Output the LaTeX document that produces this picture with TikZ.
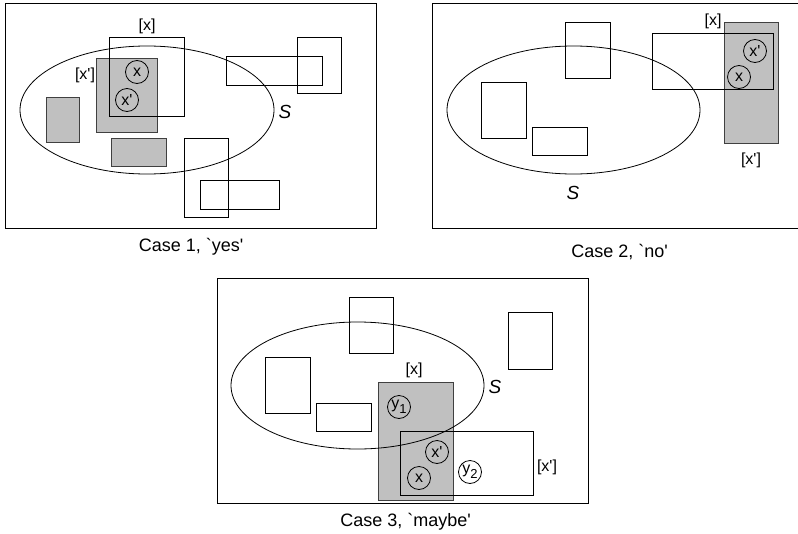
\documentclass[tikz,border=0pt]{standalone}
\usepackage{fontspec}
\setmainfont{Liberation Sans}[Ligatures=TeXOff]
\definecolor{boxgray}{RGB}{192,192,192}
\tikzset{
  frame/.style={draw=black, line width=0.9pt},
  plainbox/.style={draw=black, line width=0.9pt},
  graybox/.style={draw=black!75, fill=boxgray, line width=0.9pt},
  setS/.style={draw=black, line width=0.8pt},
  elem/.style={circle, draw=black, line width=0.8pt, minimum size=23pt, inner sep=0pt, font=\fontsize{16}{16}\selectfont},
  lbl/.style={inner sep=0pt, font=\fontsize{16}{16}\selectfont},
  slbl/.style={inner sep=0pt, font=\fontsize{19}{19}\selectfont\itshape},
  captext/.style={inner sep=0pt, anchor=base, font=\fontsize{18}{18}\selectfont},
}
\newcommand{\ysub}[1]{y\raisebox{-4.5pt}{\fontsize{13}{13}\selectfont #1}}
\begin{document}
\begin{tikzpicture}[x=1pt, y=-1pt]
\clip (0,0) rectangle (798,533);
\fill[white] (0,0) rectangle (798,533);

% ---------------- Case 1 ----------------
\draw[frame] (5,3) rectangle (376,228);
\draw[graybox] (46,97) rectangle (79,142);
\draw[graybox] (111,138) rectangle (166,166);
\draw[graybox] (96,58) rectangle (157,132);
\draw[setS] (147,110) ellipse [x radius=127, y radius=64];
\draw[plainbox] (109,37) rectangle (184,116);
\draw[plainbox] (226,56) rectangle (322,85);
\draw[plainbox] (297,37) rectangle (341,93);
\draw[plainbox] (184,138) rectangle (228,217);
\draw[plainbox] (200,180) rectangle (279,209);
\node[elem] (a1x) at (137,72) {x};
\node[elem] (a1xp) at (127,100) {x'};
\node[lbl] (a1lx) at (147,26) {[x]};
\node[lbl] (a1lxp) at (85,75) {[x']};
\node[slbl] (a1S) at (285,112) {S};
\node[captext] (cap1) at (191,251) {Case 1, `yes'};

% ---------------- Case 2 ----------------
\draw[frame] (432,3) rectangle (800,228);
\draw[setS] (573.5,110) ellipse [x radius=126.5, y radius=64];
\draw[plainbox] (565,22) rectangle (610,78);
\draw[plainbox] (481,82) rectangle (526,138);
\draw[plainbox] (532,127) rectangle (587,155);
\draw[graybox] (724,22) rectangle (778,143);
\draw[plainbox] (652,33) rectangle (773,89);
\node[elem] (a2xp) at (755,51) {x'};
\node[elem] (a2x) at (739,77) {x};
\node[lbl] (a2lx) at (713,21) {[x]};
\node[lbl] (a2lxp) at (751,160) {[x']};
\node[slbl] (a2S) at (573,193) {S};
\node[captext] (cap2) at (619.5,257) {Case 2, `no'};

% ---------------- Case 3 ----------------
\draw[frame] (217,278) rectangle (588,503);
\draw[plainbox] (349,297) rectangle (393,353);
\draw[plainbox] (508,312) rectangle (552,369);
\draw[plainbox] (265,357) rectangle (310,413);
\draw[plainbox] (316,403) rectangle (371,431);
\draw[graybox] (378,382) rectangle (453,500);
\draw[setS] (357.5,385.5) ellipse [x radius=126.5, y radius=63.5];
\draw[plainbox] (400,431) rectangle (533,495);
\node[elem] (a3y1) at (399,407) {\ysub{1}};
\node[elem] (a3xp) at (437,452) {x'};
\node[elem] (a3x) at (419,478) {x};
\node[elem] (a3y2) at (470,472) {\ysub{2}};
\node[lbl] (a3lx) at (414,370) {[x]};
\node[lbl] (a3lxp) at (547,467) {[x']};
\node[slbl] (a3S) at (495,387) {S};
\node[captext] (cap3) at (405.5,526) {Case 3, `maybe'};
\end{tikzpicture}
\end{document}
